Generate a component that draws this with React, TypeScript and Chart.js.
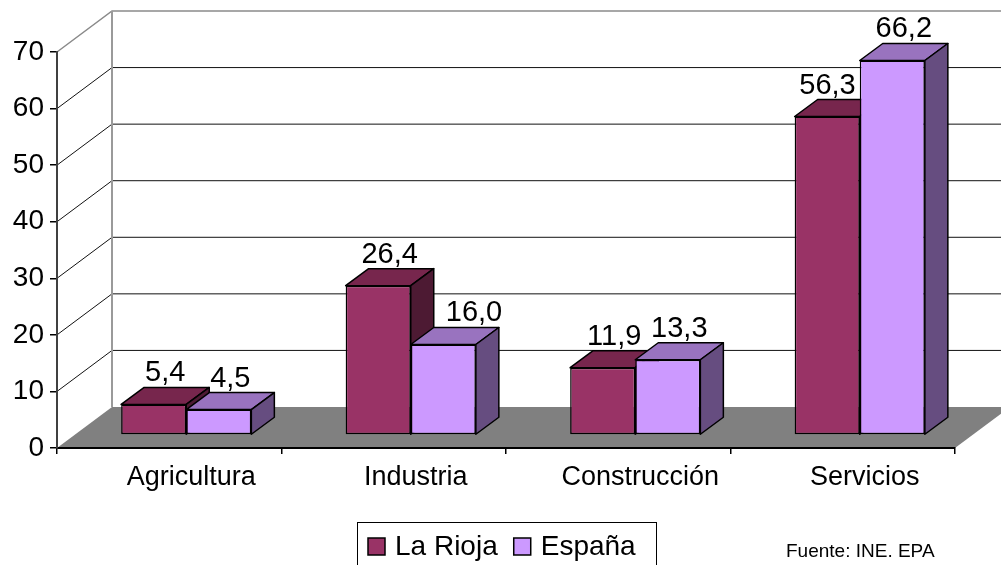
import React, { useEffect, useRef } from "react";
import { Chart, registerables } from "chart.js";

Chart.register(...registerables);

// ---------- data ----------
const categories = ["Agricultura", "Industria", "Construcción", "Servicios"];
const seriesNames = ["La Rioja", "España"];
const laRioja = [5.4, 26.4, 11.9, 56.3];
const espana = [4.5, 16.0, 13.3, 66.2];
const yTicks = [0, 10, 20, 30, 40, 50, 60, 70];
const sourceText = "Fuente: INE. EPA";

// ---------- style ----------
const FONT = '"Liberation Sans", Arial, Helvetica, sans-serif';
const FLOOR_DEPTH = { x: 55, y: -41 };
const BAR_SHIFT = { x: 17, y: -13 };
const BAR_DEPTH = { x: 23, y: -17 };
const COLORS = [
  { front: "#993366", top: "#77264D", side: "#4D1A33" },
  { front: "#CC99FF", top: "#9973BF", side: "#664D80" },
];

const fmt = (v: number) => v.toFixed(1).replace(".", ",");

const threeD = {
  id: "threeD",
  beforeDraw(chart: any) {
    const ctx = chart.ctx as CanvasRenderingContext2D;
    const { left, right, bottom } = chart.chartArea;
    const ys = chart.scales.y;
    const W = chart.width;
    ctx.save();
    // floor
    ctx.fillStyle = "#808080";
    ctx.beginPath();
    ctx.moveTo(left, bottom);
    ctx.lineTo(right, bottom);
    ctx.lineTo(right + FLOOR_DEPTH.x, bottom + FLOOR_DEPTH.y);
    ctx.lineTo(left + FLOOR_DEPTH.x, bottom + FLOOR_DEPTH.y);
    ctx.closePath();
    ctx.fill();
    // wall grid
    const maxV = yTicks[yTicks.length - 1];
    yTicks.forEach((v) => {
      if (v === 0) return;
      const py = ys.getPixelForValue(v);
      const isTop = v === maxV;
      ctx.strokeStyle = isTop ? "#8a8a8a" : "#111";
      ctx.lineWidth = isTop ? 1.5 : 1;
      ctx.beginPath();
      ctx.moveTo(left, py);
      ctx.lineTo(left + FLOOR_DEPTH.x, py + FLOOR_DEPTH.y);
      ctx.lineTo(W + 5, py + FLOOR_DEPTH.y);
      ctx.stroke();
    });
    // back wall left edge
    ctx.strokeStyle = "#9a9a9a";
    ctx.lineWidth = 2;
    ctx.beginPath();
    ctx.moveTo(left + FLOOR_DEPTH.x, bottom + FLOOR_DEPTH.y);
    ctx.lineTo(left + FLOOR_DEPTH.x, ys.getPixelForValue(maxV) + FLOOR_DEPTH.y);
    ctx.stroke();
    ctx.restore();
  },
  beforeDatasetDraw() {
    return false; // bars are drawn in 3D order below
  },
  afterDatasetsDraw(chart: any) {
    const ctx = chart.ctx as CanvasRenderingContext2D;
    const metas = chart.data.datasets.map((_: any, i: number) => chart.getDatasetMeta(i));
    const dx = BAR_DEPTH.x;
    const dy = BAR_DEPTH.y;
    ctx.save();
    ctx.translate(BAR_SHIFT.x, BAR_SHIFT.y);
    const n = chart.data.labels.length;
    // bars
    for (let i = 0; i < n; i++) {
      metas.forEach((meta: any, d: number) => {
        const el = meta.data[i];
        if (!el) return;
        const p = el.getProps(["x", "y", "base", "width"], true);
        const L = p.x - p.width / 2;
        const R = p.x + p.width / 2;
        const T = Math.min(p.y, p.base);
        const B = Math.max(p.y, p.base);
        el.draw(ctx);
        ctx.lineWidth = 1.5;
        ctx.strokeStyle = "#000";
        ctx.lineJoin = "round";
        // top
        ctx.fillStyle = COLORS[d].top;
        ctx.beginPath();
        ctx.moveTo(L, T);
        ctx.lineTo(R, T);
        ctx.lineTo(R + dx, T + dy);
        ctx.lineTo(L + dx, T + dy);
        ctx.closePath();
        ctx.fill();
        ctx.stroke();
        // side
        ctx.fillStyle = COLORS[d].side;
        ctx.beginPath();
        ctx.moveTo(R, T);
        ctx.lineTo(R + dx, T + dy);
        ctx.lineTo(R + dx, B + dy);
        ctx.lineTo(R, B);
        ctx.closePath();
        ctx.fill();
        ctx.stroke();
      });
    }
    // value labels, nudged away from taller neighbouring bars
    ctx.font = `29px ${FONT}`;
    ctx.fillStyle = "#000";
    ctx.textAlign = "left";
    ctx.textBaseline = "alphabetic";
    for (let i = 0; i < n; i++) {
      metas.forEach((meta: any, d: number) => {
        const el = meta.data[i];
        if (!el) return;
        const p = el.getProps(["x", "y", "width"], true);
        const v = chart.data.datasets[d].data[i];
        const txt = fmt(v);
        const w = ctx.measureText(txt).width;
        const baseline = p.y + dy - 6;
        let lx = p.x + dx / 2 - w / 2;
        const prev = d > 0 ? metas[d - 1].data[i] : null;
        const next = d < metas.length - 1 ? metas[d + 1].data[i] : null;
        if (prev) {
          const q = prev.getProps(["x", "y", "width"], true);
          if (q.y + dy < baseline) lx = Math.max(lx, q.x + q.width / 2 + dx + 12);
        }
        if (next) {
          const q = next.getProps(["x", "y", "width"], true);
          if (q.y < baseline) lx = Math.min(lx, q.x - q.width / 2 - w - 4);
        }
        ctx.fillText(txt, lx, baseline);
      });
    }
    ctx.restore();
  },
  afterDraw(chart: any) {
    const ctx = chart.ctx as CanvasRenderingContext2D;
    ctx.save();
    // legend box
    ctx.strokeStyle = "#000";
    ctx.lineWidth = 1;
    ctx.strokeRect(357.5, 522.5, 299, 60);
    ctx.font = `28px ${FONT}`;
    ctx.textAlign = "left";
    ctx.textBaseline = "alphabetic";
    let x = 368;
    chart.data.datasets.forEach((ds: any, d: number) => {
      ctx.fillStyle = COLORS[d].front;
      ctx.fillRect(x, 538, 17, 17);
      ctx.lineWidth = 1.5;
      ctx.strokeRect(x, 538, 17, 17);
      ctx.fillStyle = "#000";
      ctx.fillText(ds.label, x + 27, 555);
      x += 27 + ctx.measureText(ds.label).width + 16;
    });
    // source
    ctx.font = `19px ${FONT}`;
    ctx.fillText(sourceText, 786, 557);
    ctx.restore();
  },
};

export default function App() {
  const ref = useRef<HTMLCanvasElement>(null);
  useEffect(() => {
    const chart = new Chart(ref.current as HTMLCanvasElement, {
      type: "bar",
      data: {
        labels: categories,
        datasets: [
          {
            label: seriesNames[0],
            data: laRioja,
            backgroundColor: COLORS[0].front,
            borderColor: "#000",
            borderWidth: 1.5,
            borderSkipped: false,
            categoryPercentage: 0.58,
            barPercentage: 1,
          },
          {
            label: seriesNames[1],
            data: espana,
            backgroundColor: COLORS[1].front,
            borderColor: "#000",
            borderWidth: 1.5,
            borderSkipped: false,
            categoryPercentage: 0.58,
            barPercentage: 1,
          },
        ],
      } as any,
      options: {
        responsive: false,
        animation: false,
        layout: { padding: { left: 0, top: 52, right: 46, bottom: 0 } },
        plugins: { legend: { display: false }, tooltip: { enabled: false } },
        scales: {
          x: {
            grid: { offset: true, drawOnChartArea: false, tickLength: 6, color: "#000", lineWidth: 1.5 },
            border: { display: true, color: "#000", width: 2 },
            ticks: { font: { family: FONT, size: 27 }, color: "#000", labelOffset: 22, padding: 7, maxRotation: 0, autoSkip: false },
            afterFit: (s: any) => {
              s.height = 117;
            },
          },
          y: {
            min: 0,
            max: 70,
            ticks: { stepSize: 10, font: { family: FONT, size: 28 }, color: "#000", padding: 6 },
            grid: { drawOnChartArea: false, tickLength: 7, color: "#000", lineWidth: 1.5 },
            border: { display: true, color: "#404040", width: 2 },
            afterFit: (s: any) => {
              s.width = 57;
            },
          },
        },
      } as any,
      plugins: [threeD as any],
    });
    return () => chart.destroy();
  }, []);
  return (
    <div style={{ position: "fixed", left: 0, top: 0, width: 1001, height: 565, background: "#fff" }}>
      <canvas ref={ref} width={1001} height={565} style={{ display: "block" }} />
    </div>
  );
}
